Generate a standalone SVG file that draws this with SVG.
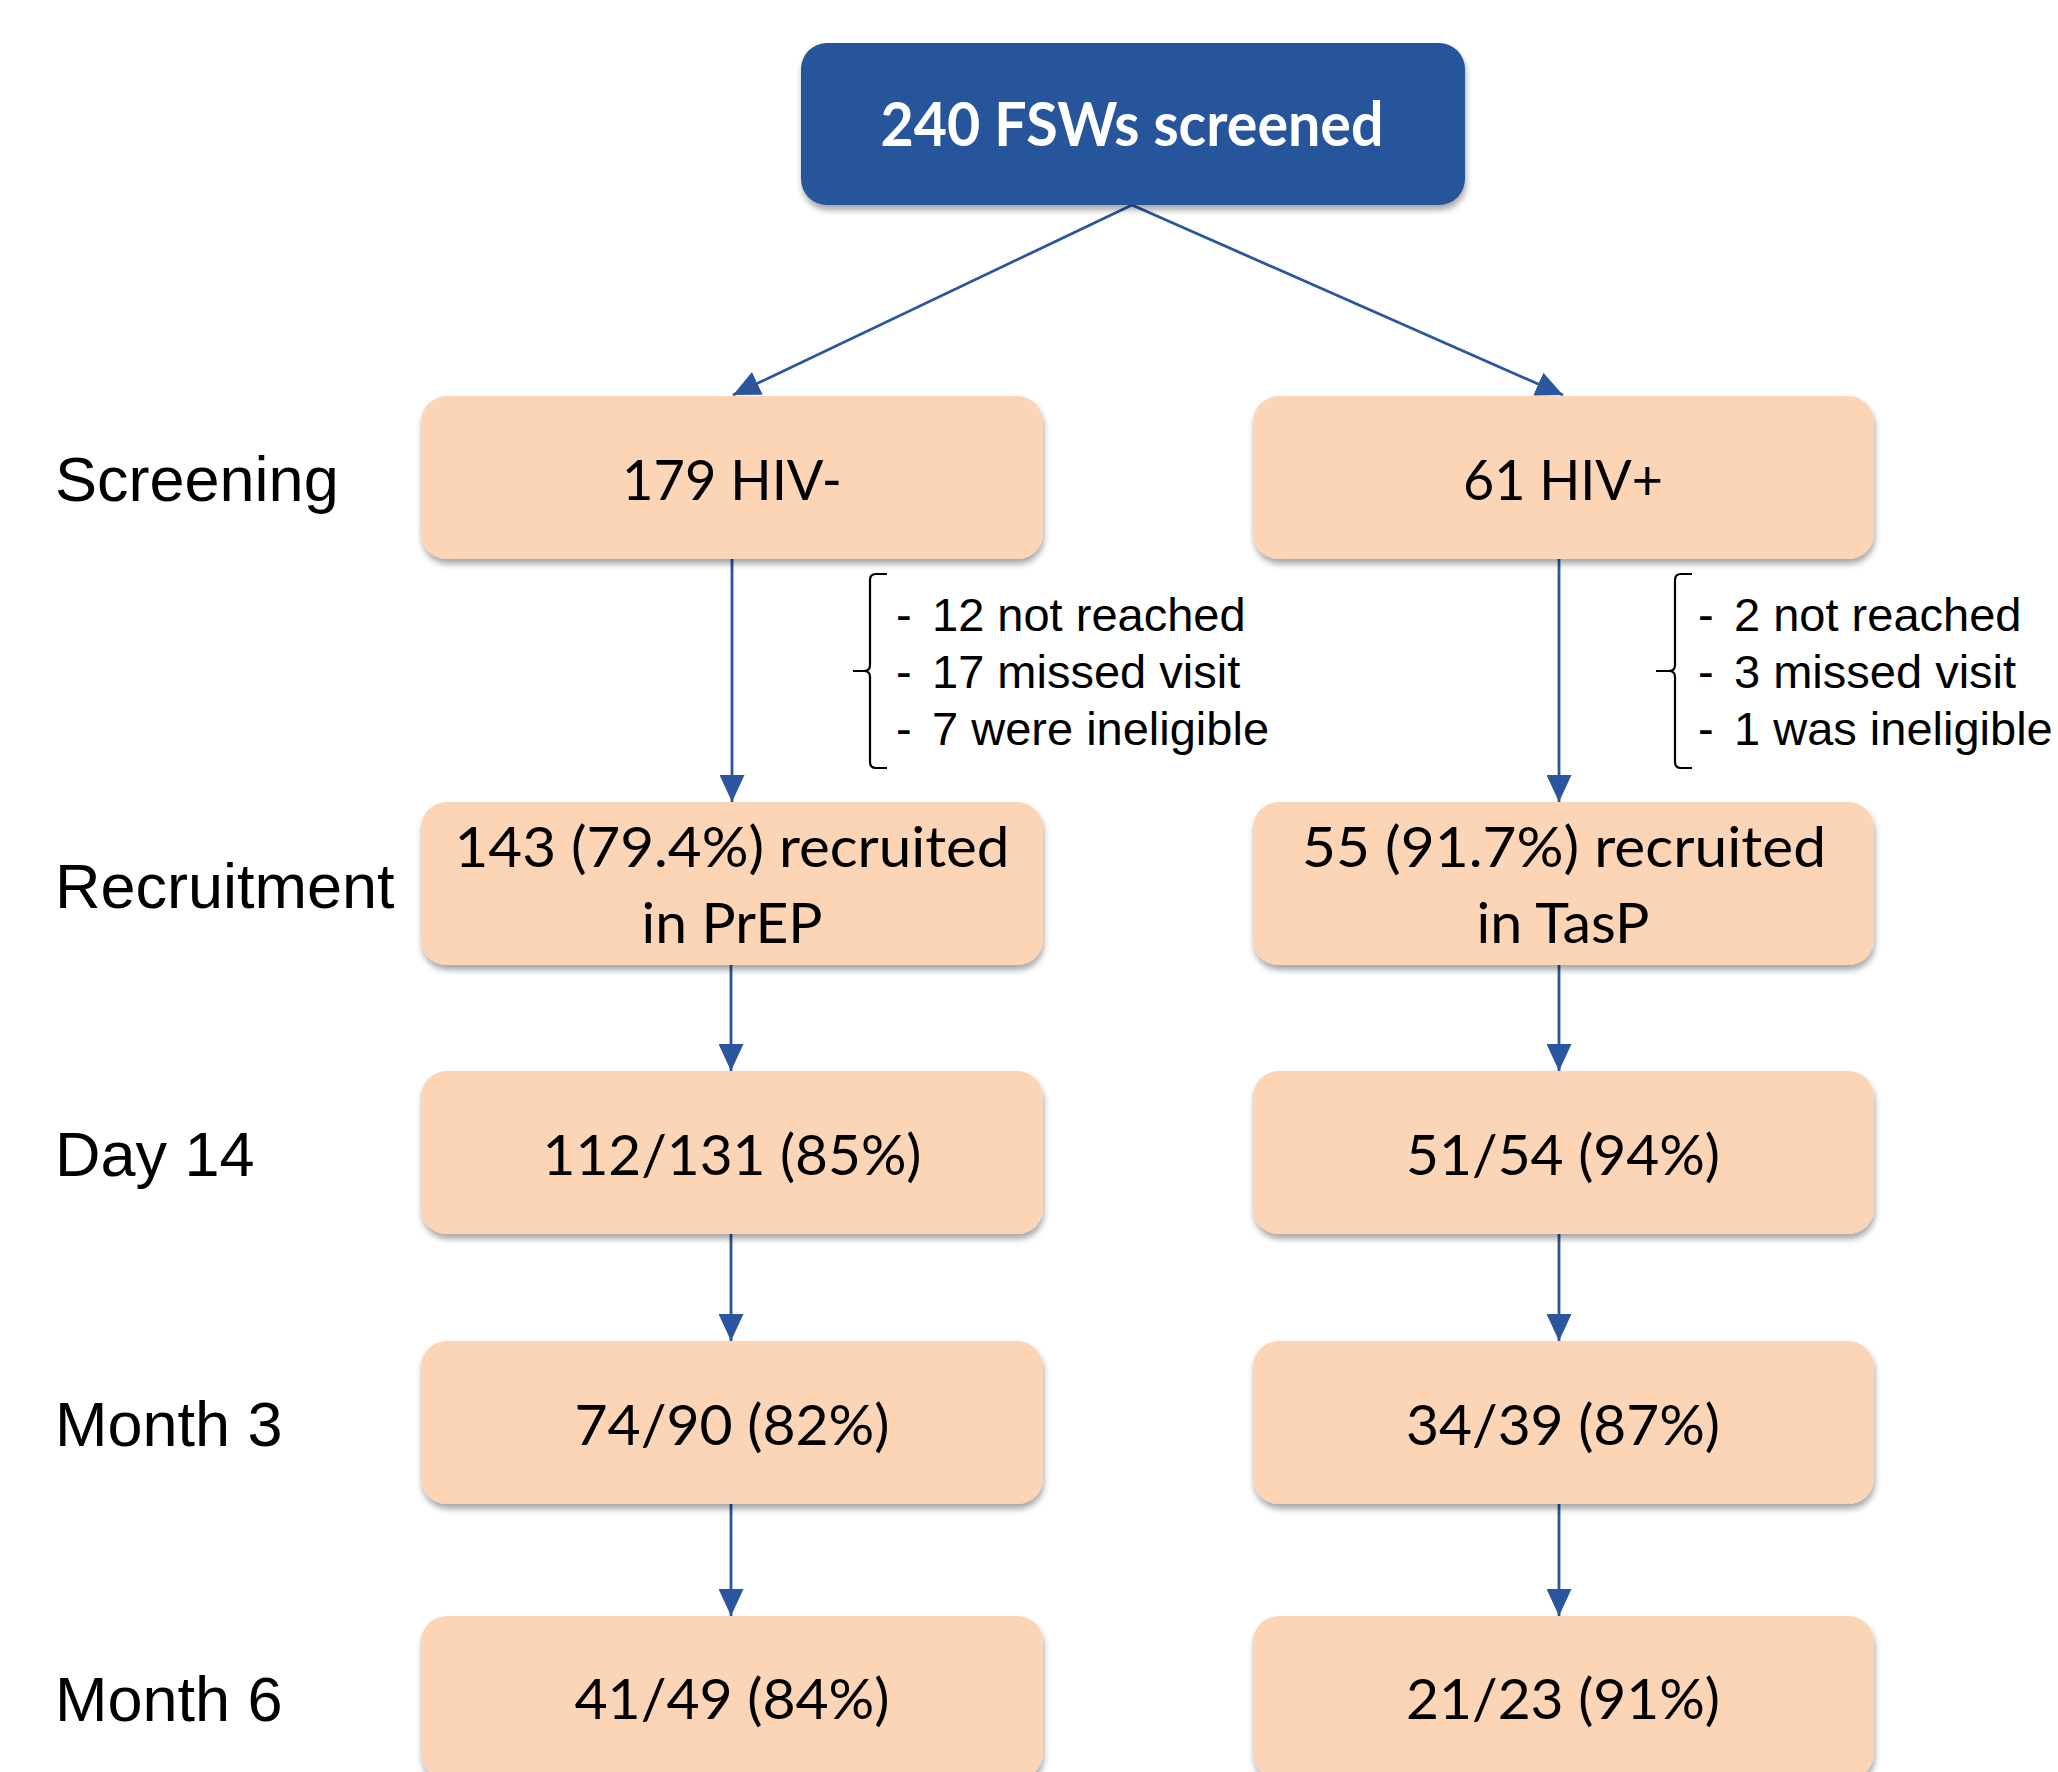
<svg xmlns="http://www.w3.org/2000/svg" width="2058" height="1772" viewBox="0 0 2058 1772">
<style>
.box{fill:#FBD5B5;filter:url(#sh)}
.top{fill:#26559B;filter:url(#sh)}
.bt{font-family:Lato,"Open Sans","Noto Sans",sans-serif;font-size:57px;fill:#000;text-anchor:middle}
.tt{font-family:Lato,"Open Sans","Noto Sans",sans-serif;font-size:62px;font-weight:bold;fill:#fff;text-anchor:middle}
.lbl{font-family:"Liberation Sans",Arial,sans-serif;font-size:63px;fill:#000}
.note{font-family:"Liberation Sans",Arial,sans-serif;font-size:47px;fill:#000}
.con{stroke:#2A56A0;stroke-width:2.8;fill:none;marker-end:url(#ah)}
.br{stroke:#000;stroke-width:2.2;fill:none}
</style>
<defs>
<filter id="sh" x="-5%" y="-10%" width="110%" height="125%">
<feGaussianBlur in="SourceAlpha" stdDeviation="3"/>
<feOffset dx="1" dy="5" result="b"/>
<feComponentTransfer><feFuncA type="linear" slope="0.35"/></feComponentTransfer>
<feMerge><feMergeNode/><feMergeNode in="SourceGraphic"/></feMerge>
</filter>
<marker id="ah" viewBox="0 0 27 25" refX="27" refY="12.5" markerWidth="27" markerHeight="25" markerUnits="userSpaceOnUse" orient="auto">
<path d="M0,0 L27,12.5 L0,25 z" fill="#2A56A0"/>
</marker>
</defs>
<rect width="2058" height="1772" fill="#fff"/>

<g id="row-labels">
<text class="lbl" x="55" y="501">Screening</text>
<text class="lbl" x="55" y="908">Recruitment</text>
<text class="lbl" x="55" y="1176">Day 14</text>
<text class="lbl" x="55" y="1446">Month 3</text>
<text class="lbl" x="55" y="1721">Month 6</text>
</g>

<g id="connectors">
<line class="con" x1="1132" y1="205" x2="733" y2="395"/>
<line class="con" x1="1132" y1="205" x2="1563" y2="395"/>
<line class="con" x1="732" y1="559" x2="732" y2="802"/>
<line class="con" x1="1559" y1="559" x2="1559" y2="802"/>
<line class="con" x1="731" y1="965" x2="731" y2="1071"/>
<line class="con" x1="1559" y1="965" x2="1559" y2="1071"/>
<line class="con" x1="731" y1="1234" x2="731" y2="1341"/>
<line class="con" x1="1559" y1="1234" x2="1559" y2="1341"/>
<line class="con" x1="731" y1="1504" x2="731" y2="1616"/>
<line class="con" x1="1559" y1="1504" x2="1559" y2="1616"/>
</g>

<g id="n-top">
<rect class="top" x="801" y="43" width="664" height="162" rx="26"/>
<text class="tt" x="1132" y="146" textLength="503" lengthAdjust="spacingAndGlyphs">240 FSWs screened</text>
</g>

<g id="n-hivneg">
<rect class="box" x="421" y="396" width="622" height="163" rx="26"/>
<text class="bt" x="732" y="500" textLength="220" lengthAdjust="spacingAndGlyphs">179 HIV-</text>
</g>
<g id="n-hivpos">
<rect class="box" x="1253" y="396" width="621" height="163" rx="26"/>
<text class="bt" x="1563" y="500" textLength="200" lengthAdjust="spacingAndGlyphs">61 HIV+</text>
</g>

<g id="n-rec-prep">
<rect class="box" x="421" y="802" width="622" height="163" rx="26"/>
<text class="bt" x="732" y="867" textLength="555" lengthAdjust="spacingAndGlyphs">143 (79.4%) recruited</text>
<text class="bt" x="732" y="943" textLength="181" lengthAdjust="spacingAndGlyphs">in PrEP</text>
</g>
<g id="n-rec-tasp">
<rect class="box" x="1253" y="802" width="621" height="163" rx="26"/>
<text class="bt" x="1564" y="867" textLength="524" lengthAdjust="spacingAndGlyphs">55 (91.7%) recruited</text>
<text class="bt" x="1563" y="943" textLength="173" lengthAdjust="spacingAndGlyphs">in TasP</text>
</g>

<g id="n-d14-prep">
<rect class="box" x="421" y="1071" width="622" height="163" rx="26"/>
<text class="bt" x="732" y="1175" textLength="379" lengthAdjust="spacingAndGlyphs">112/131 (85%)</text>
</g>
<g id="n-d14-tasp">
<rect class="box" x="1253" y="1071" width="621" height="163" rx="26"/>
<text class="bt" x="1563" y="1175" textLength="314" lengthAdjust="spacingAndGlyphs">51/54 (94%)</text>
</g>

<g id="n-m3-prep">
<rect class="box" x="421" y="1341" width="622" height="163" rx="26"/>
<text class="bt" x="732" y="1445" textLength="315" lengthAdjust="spacingAndGlyphs">74/90 (82%)</text>
</g>
<g id="n-m3-tasp">
<rect class="box" x="1253" y="1341" width="621" height="163" rx="26"/>
<text class="bt" x="1563" y="1445" textLength="314" lengthAdjust="spacingAndGlyphs">34/39 (87%)</text>
</g>

<g id="n-m6-prep">
<rect class="box" x="421" y="1616" width="622" height="163" rx="26"/>
<text class="bt" x="732" y="1719" textLength="315" lengthAdjust="spacingAndGlyphs">41/49 (84%)</text>
</g>
<g id="n-m6-tasp">
<rect class="box" x="1253" y="1616" width="621" height="163" rx="26"/>
<text class="bt" x="1563" y="1719" textLength="314" lengthAdjust="spacingAndGlyphs">21/23 (91%)</text>
</g>

<g id="note-left">
<path class="br" d="M887,574 H876 Q870,574 870,580 V665 Q870,671 864,671 H853 M864,671 Q870,671 870,677 V762 Q870,768 876,768 H887"/>
<text class="note" x="896" y="631">-</text>
<text class="note" x="932" y="631">12 not reached</text>
<text class="note" x="896" y="688">-</text>
<text class="note" x="932" y="688">17 missed visit</text>
<text class="note" x="896" y="745">-</text>
<text class="note" x="932" y="745">7 were ineligible</text>
</g>

<g id="note-right">
<path class="br" d="M1692,574 H1681 Q1675,574 1675,580 V665 Q1675,671 1669,671 H1656 M1669,671 Q1675,671 1675,677 V762 Q1675,768 1681,768 H1692"/>
<text class="note" x="1698" y="631">-</text>
<text class="note" x="1734" y="631">2 not reached</text>
<text class="note" x="1698" y="688">-</text>
<text class="note" x="1734" y="688">3 missed visit</text>
<text class="note" x="1698" y="745">-</text>
<text class="note" x="1734" y="745">1 was ineligible</text>
</g>
</svg>
